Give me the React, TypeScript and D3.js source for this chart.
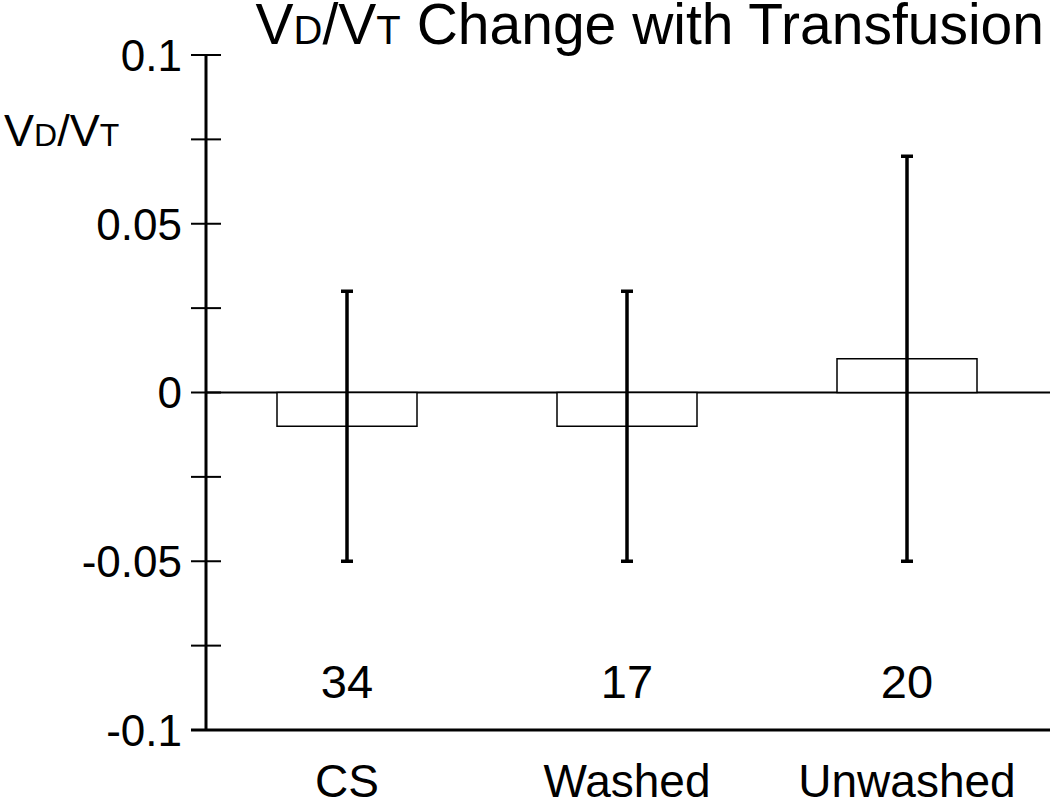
import * as d3 from 'd3';
import React, { useEffect, useRef } from 'react';

// values
const categories = ['CS', 'Washed', 'Unwashed'];
const means = [-0.01, -0.01, 0.01];
const upper = [0.03, 0.03, 0.07];
const lower = [-0.05, -0.05, -0.05];
const counts = ['34', '17', '20'];
const yTicks = [-0.1, -0.075, -0.05, -0.025, 0, 0.025, 0.05, 0.075, 0.1];
const yLabels = [-0.1, -0.05, 0, 0.05, 0.1];

export default function App() {
  const ref = useRef<SVGSVGElement>(null);
  const width = 1050;
  const height = 807;

  useEffect(() => {
    const svg = d3.select(ref.current);
    svg.selectAll('*').remove();
    const font = "'Liberation Sans', Arial, sans-serif";

    const y = d3.scaleLinear().domain([-0.1, 0.1]).range([730, 55]);
    const x = d3.scaleBand().domain(categories).range([207, 1047]).paddingInner(0.5).paddingOuter(0.25);
    const axisX = 206;

    // zero line
    svg.append('line')
      .attr('x1', axisX).attr('x2', width)
      .attr('y1', y(0)).attr('y2', y(0))
      .attr('stroke', '#000').attr('stroke-width', 2);

    // bars
    svg.selectAll('rect.bar').data(means).enter().append('rect')
      .attr('class', 'bar')
      .attr('x', (d, i) => x(categories[i])!)
      .attr('width', x.bandwidth())
      .attr('y', d => Math.min(y(d), y(0)))
      .attr('height', d => Math.abs(y(d) - y(0)))
      .attr('fill', '#fff').attr('stroke', '#000').attr('stroke-width', 1.5);

    // error bars
    const eb = svg.append('g').attr('stroke', '#000').attr('stroke-width', 3.5);
    categories.forEach((c, i) => {
      const cx = x(c)! + x.bandwidth() / 2;
      eb.append('line').attr('x1', cx).attr('x2', cx).attr('y1', y(upper[i])).attr('y2', y(lower[i]));
      eb.append('line').attr('x1', cx - 6).attr('x2', cx + 6).attr('y1', y(upper[i])).attr('y2', y(upper[i]));
      eb.append('line').attr('x1', cx - 6).attr('x2', cx + 6).attr('y1', y(lower[i])).attr('y2', y(lower[i]));
    });

    // y axis
    const ax = svg.append('g').attr('transform', `translate(${axisX},0)`);
    ax.append('line').attr('x1', 0).attr('x2', 0).attr('y1', y(0.1)).attr('y2', y(-0.1))
      .attr('stroke', '#000').attr('stroke-width', 3);
    ax.selectAll('line.tick').data(yTicks).enter().append('line')
      .attr('class', 'tick')
      .attr('x1', -15).attr('x2', 15)
      .attr('y1', d => y(d)).attr('y2', d => y(d))
      .attr('stroke', '#000').attr('stroke-width', 2);
    ax.selectAll('text').data(yLabels).enter().append('text')
      .attr('x', -24)
      .attr('y', d => y(d))
      .attr('dy', '0.36em')
      .attr('text-anchor', 'end')
      .attr('font-family', font).attr('font-size', 44)
      .text(d => (d === 0 ? '0' : String(d)));

    // x axis
    svg.append('line')
      .attr('x1', 191).attr('x2', width)
      .attr('y1', y(-0.1)).attr('y2', y(-0.1))
      .attr('stroke', '#000').attr('stroke-width', 3);

    // counts
    svg.selectAll('text.count').data(counts).enter().append('text')
      .attr('class', 'count')
      .attr('x', (d, i) => x(categories[i])! + x.bandwidth() / 2)
      .attr('y', 698)
      .attr('text-anchor', 'middle')
      .attr('font-family', font).attr('font-size', 47)
      .text(d => d);

    // category labels
    svg.selectAll('text.cat').data(categories).enter().append('text')
      .attr('class', 'cat')
      .attr('x', d => x(d)! + x.bandwidth() / 2)
      .attr('y', 797)
      .attr('text-anchor', 'middle')
      .attr('font-family', font).attr('font-size', 46)
      .text(d => d);

    // y label VD/VT
    const yl = svg.append('text').attr('x', 4).attr('y', 146)
      .attr('font-family', font).attr('font-size', 45);
    yl.append('tspan').text('V');
    yl.append('tspan').attr('font-size', 32).text('D');
    yl.append('tspan').text('/V');
    yl.append('tspan').attr('font-size', 32).text('T');

    // title
    const t = svg.append('text').attr('x', 1044).attr('y', 44)
      .attr('text-anchor', 'end')
      .attr('font-family', font).attr('font-size', 57);
    t.append('tspan').text('V');
    t.append('tspan').attr('font-size', 40).text('D');
    t.append('tspan').text('/V');
    t.append('tspan').attr('font-size', 40).text('T');
    t.append('tspan').text(' Change with Transfusion');
  }, []);

  return (
    <svg ref={ref} width={width} height={height}
      style={{ position: 'absolute', left: 0, top: 0, background: '#fff' }} />
  );
}
